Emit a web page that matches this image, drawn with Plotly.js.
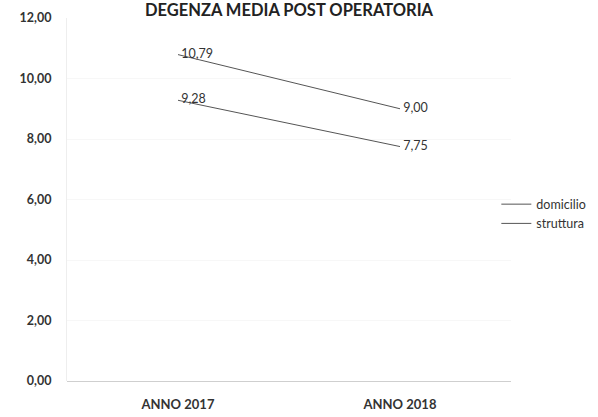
<!DOCTYPE html>
<html>
<head>
<meta charset="utf-8">
<script src="https://cdn.plot.ly/plotly-3.0.1.min.js"></script>
<style>html,body{margin:0;padding:0;background:#fff;}#chart{width:598px;height:417px;}</style>
</head>
<body>
<div id="chart"></div>
<script>
const categories = ["ANNO 2017", "ANNO 2018"];
const domicilio = [10.79, 9.00];
const struttura = [9.28, 7.75];
const seriesNames = ["domicilio", "struttura"];
const titleText = "DEGENZA MEDIA POST OPERATORIA";

const fmt = v => '\u00a0' + v.toFixed(2).replace('.', ',');
const fontFam = "Lato, 'Open Sans', sans-serif";

function mk(name, vals) {
  return {
    type: 'scatter', mode: 'lines+text', name: name,
    x: categories, y: vals,
    text: vals.map(fmt), textposition: 'middle right',
    textfont: {family: fontFam, size: 12.5, color: '#333'},
    line: {color: '#555', width: 1},
    cliponaxis: false, hoverinfo: 'skip'
  };
}

const data = [mk(seriesNames[0], domicilio), mk(seriesNames[1], struttura)];

const layout = {
  width: 598, height: 417,
  margin: {l: 67, r: 87, t: 18, b: 36, autoexpand: false},
  paper_bgcolor: '#fff', plot_bgcolor: '#fff',
  separators: ',.',
  showlegend: true,
  legend: {xref: 'container', x: 0.83, xanchor: 'left', y: 0.46, yanchor: 'middle', itemwidth: 30,
           font: {family: fontFam, size: 12.5, color: '#333'}, tracegroupgap: 6,
           bgcolor: 'rgba(0,0,0,0)'},
  xaxis: {type: 'category', range: [-0.5, 1.5], showgrid: false, zeroline: false,
          showline: false, ticks: '', ticklabelstandoff: 14,
          tickfont: {family: fontFam, size: 13, color: '#333', weight: 'bold'}},
  yaxis: {range: [0, 12], dtick: 2, tickformat: '.2f', showgrid: true, gridcolor: '#f7f7f7',
          zeroline: true, zerolinecolor: '#cfcfcf', zerolinewidth: 1,
          showline: true, linecolor: '#eeeeee', ticks: '', ticklabelstandoff: 12,
          tickfont: {family: fontFam, size: 12.5, color: '#333', weight: 'bold'}},
  annotations: [{text: titleText, xref: 'paper', yref: 'paper', x: 0.5, y: 1.021,
                 xanchor: 'center', yanchor: 'middle', showarrow: false,
                 font: {family: fontFam, size: 16.5, color: '#222', weight: 'bold'}}]
};

Plotly.newPlot('chart', data, layout, {displayModeBar: false, staticPlot: true});
</script>
</body>
</html>
